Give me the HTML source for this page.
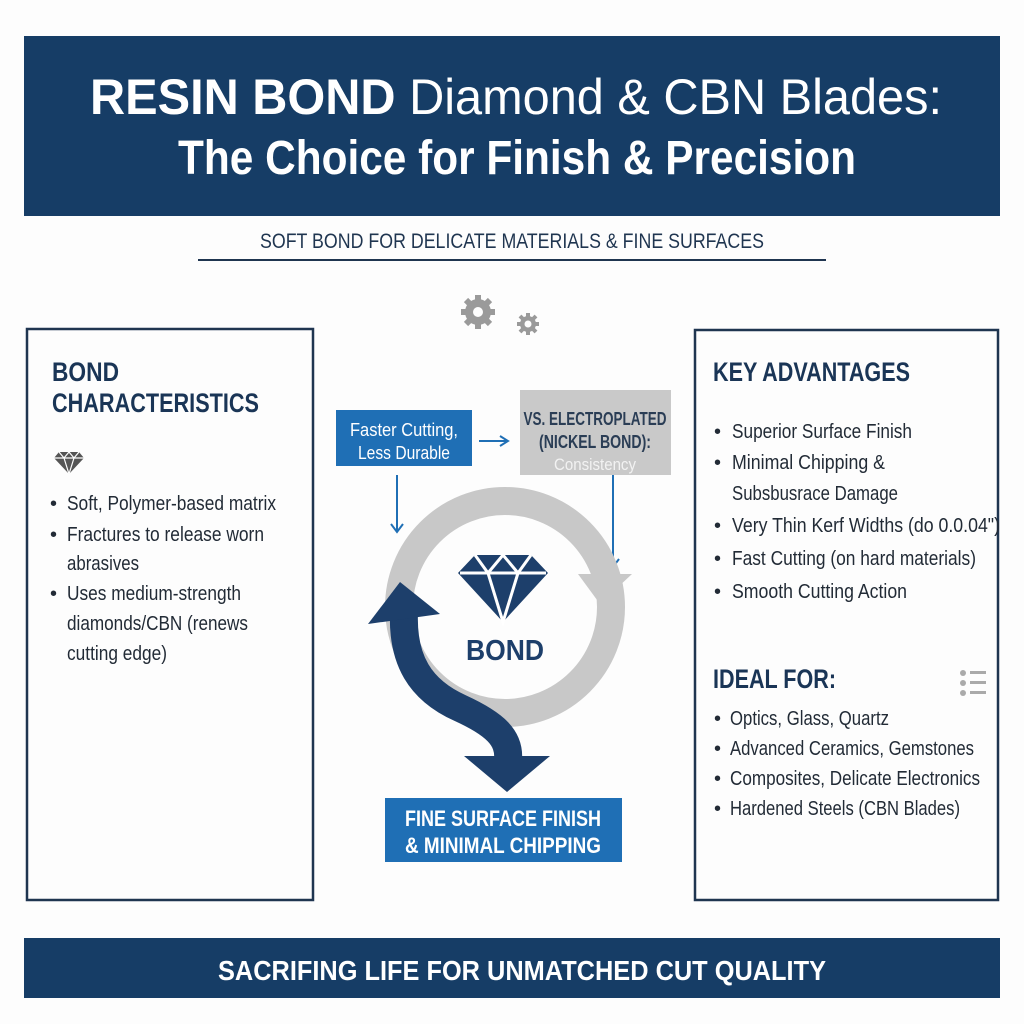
<!DOCTYPE html>
<html><head><meta charset="utf-8"><style>
html,body{margin:0;padding:0;background:#fff}
svg{display:block}
text{font-family:"Liberation Sans Narrow","Liberation Sans",sans-serif}
</style></head><body>
<svg width="1024" height="1024" viewBox="0 0 1024 1024" xmlns="http://www.w3.org/2000/svg">
<rect width="1024" height="1024" fill="#fdfdfd"/>
<rect x="24" y="36" width="976" height="180" fill="#163d66"/>
<text x="90" y="114" font-size="50" fill="#fff" textLength="852" lengthAdjust="spacingAndGlyphs"><tspan font-weight="bold">RESIN BOND</tspan> Diamond &amp; CBN Blades:</text>
<text x="178" y="174" font-size="48" fill="#fff" textLength="678" lengthAdjust="spacingAndGlyphs" font-weight="bold">The Choice for Finish &amp; Precision</text>
<text x="260" y="248" font-size="21" fill="#1f3550" textLength="504" lengthAdjust="spacingAndGlyphs">SOFT BOND FOR DELICATE MATERIALS &amp; FINE SURFACES</text>
<rect x="198" y="259" width="628" height="2" fill="#1f3550"/>

<rect x="27" y="329" width="286" height="571" fill="none" stroke="#1f3550" stroke-width="2.5"/>
<g fill="#1a3556" font-weight="bold" font-size="27">
<text x="52" y="381" textLength="67" lengthAdjust="spacingAndGlyphs">BOND</text>
<text x="52" y="412" textLength="207" lengthAdjust="spacingAndGlyphs">CHARACTERISTICS</text>
</g>
<g transform="translate(54,452)" fill="#555">
<path d="M0,6 L5,0 L25,0 L30,6 L15,22 Z"/>
<path d="M0,6 L30,6 M5,0 L10,6 L15,0 L20,6 L25,0 M10,6 L15,22 L20,6" stroke="#fff" stroke-width="1.2" fill="none"/>
</g>
<g fill="#222b36" font-size="20">
<text x="50" y="510">•</text><text x="67" y="510" textLength="209" lengthAdjust="spacingAndGlyphs">Soft, Polymer-based matrix</text>
<text x="50" y="541">•</text><text x="67" y="541" textLength="197" lengthAdjust="spacingAndGlyphs">Fractures to release worn</text>
<text x="67" y="570" textLength="72" lengthAdjust="spacingAndGlyphs">abrasives</text>
<text x="50" y="600">•</text><text x="67" y="600" textLength="174" lengthAdjust="spacingAndGlyphs">Uses medium-strength</text>
<text x="67" y="630" textLength="181" lengthAdjust="spacingAndGlyphs">diamonds/CBN (renews</text>
<text x="67" y="660" textLength="100" lengthAdjust="spacingAndGlyphs">cutting edge)</text>
</g>

<rect x="695" y="330" width="303" height="570" fill="none" stroke="#1f3550" stroke-width="2.5"/>
<g fill="#1a3556" font-weight="bold" font-size="27">
<text x="713" y="381" textLength="197" lengthAdjust="spacingAndGlyphs">KEY ADVANTAGES</text>
<text x="713" y="688" textLength="123" lengthAdjust="spacingAndGlyphs">IDEAL FOR:</text>
</g>
<g fill="#222b36" font-size="20">
<text x="714" y="438">•</text><text x="732" y="438" textLength="180" lengthAdjust="spacingAndGlyphs">Superior Surface Finish</text>
<text x="714" y="469">•</text><text x="732" y="469" textLength="153" lengthAdjust="spacingAndGlyphs">Minimal Chipping &amp;</text>
<text x="732" y="500" textLength="166" lengthAdjust="spacingAndGlyphs">Subsbusrace Damage</text>
<text x="714" y="532">•</text><text x="732" y="532" textLength="268" lengthAdjust="spacingAndGlyphs">Very Thin Kerf Widths (do 0.0.04")</text>
<text x="714" y="565">•</text><text x="732" y="565" textLength="244" lengthAdjust="spacingAndGlyphs">Fast Cutting (on hard materials)</text>
<text x="714" y="598">•</text><text x="732" y="598" textLength="175" lengthAdjust="spacingAndGlyphs">Smooth Cutting Action</text>
<text x="714" y="725">•</text><text x="730" y="725" textLength="159" lengthAdjust="spacingAndGlyphs">Optics, Glass, Quartz</text>
<text x="714" y="755">•</text><text x="730" y="755" textLength="244" lengthAdjust="spacingAndGlyphs">Advanced Ceramics, Gemstones</text>
<text x="714" y="785">•</text><text x="730" y="785" textLength="250" lengthAdjust="spacingAndGlyphs">Composites, Delicate Electronics</text>
<text x="714" y="815">•</text><text x="730" y="815" textLength="230" lengthAdjust="spacingAndGlyphs">Hardened Steels (CBN Blades)</text>
</g>
<g fill="#aaa">
<circle cx="963" cy="673" r="3"/><circle cx="963" cy="683" r="3"/><circle cx="963" cy="693" r="3"/>
<rect x="970" y="671" width="16" height="3"/><rect x="970" y="681" width="16" height="3"/><rect x="970" y="691" width="16" height="3"/>
</g>

<g fill="#9a9a9a">
<circle cx="478" cy="312" r="13"/>
<g stroke="#9a9a9a" stroke-width="6">
<line x1="478" y1="295" x2="478" y2="329"/><line x1="461" y1="312" x2="495" y2="312"/>
<line x1="466" y1="300" x2="490" y2="324"/><line x1="466" y1="324" x2="490" y2="300"/>
</g>
<circle cx="478" cy="312" r="5" fill="#fdfdfd"/>
<circle cx="528" cy="324" r="8"/>
<g stroke="#9a9a9a" stroke-width="4">
<line x1="528" y1="313" x2="528" y2="335"/><line x1="517" y1="324" x2="539" y2="324"/>
<line x1="520" y1="316" x2="536" y2="332"/><line x1="520" y1="332" x2="536" y2="316"/>
</g>
<circle cx="528" cy="324" r="3.5" fill="#fdfdfd"/>
</g>

<rect x="336" y="410" width="136" height="56" fill="#1f6fb5"/>
<g fill="#fff" font-size="18" text-anchor="middle">
<text x="404" y="436" textLength="108" lengthAdjust="spacingAndGlyphs">Faster Cutting,</text>
<text x="404" y="459" textLength="92" lengthAdjust="spacingAndGlyphs">Less Durable</text>
</g>
<line x1="479" y1="441" x2="506" y2="441" stroke="#1f6fb5" stroke-width="2"/>
<path d="M500,436 L508,441 L500,446" fill="none" stroke="#1f6fb5" stroke-width="2"/>
<rect x="520" y="390" width="151" height="85" fill="#c9c9c9"/>
<g font-size="18" text-anchor="middle" font-weight="bold" fill="#2a3d55">
<text x="595" y="425" textLength="143" lengthAdjust="spacingAndGlyphs">VS. ELECTROPLATED</text>
<text x="595" y="448" textLength="112" lengthAdjust="spacingAndGlyphs">(NICKEL BOND):</text>
</g>
<text x="595" y="470" font-size="17" text-anchor="middle" fill="#f2f2f2" textLength="82" lengthAdjust="spacingAndGlyphs">Consistency</text>
<g stroke="#1f6fb5" stroke-width="2" fill="none">
<line x1="397" y1="475" x2="397" y2="531"/><path d="M391,524 L397,532 L403,524"/>
<line x1="613" y1="475" x2="613" y2="566"/><path d="M607,559 L613,567 L619,559"/>
</g>

<circle cx="505" cy="607" r="106" fill="none" stroke="#c8c8c8" stroke-width="28"/>
<path d="M578,574 L632,574 L600,604 Z" fill="#c8c8c8"/>
<path d="M404,612 C402,660 420,690 460,708 C495,724 510,738 508,760" fill="none" stroke="#1d3f6b" stroke-width="28"/>
<path d="M400,582 L368,624 L440,614 Z" fill="#1d3f6b"/>
<path d="M464,756 L550,756 L507,792 Z" fill="#1d3f6b"/>
<g transform="translate(458,555)">
<path d="M0,18 L17,0 L73,0 L90,18 L45,67 Z" fill="#1d3f6b"/>
<path d="M2,18 L88,18 M17,0 L30,18 L45,0 L60,18 L73,0 M30,18 L45,67 L60,18" fill="none" stroke="#fff" stroke-width="3"/>
</g>
<text x="505" y="660" font-size="29" font-weight="bold" fill="#1d3f6b" text-anchor="middle" textLength="78" lengthAdjust="spacingAndGlyphs">BOND</text>

<rect x="385" y="798" width="237" height="64" fill="#1f6fb5"/>
<g fill="#fff" font-size="22" font-weight="bold" text-anchor="middle">
<text x="503" y="826" textLength="196" lengthAdjust="spacingAndGlyphs">FINE SURFACE FINISH</text>
<text x="503" y="853" textLength="196" lengthAdjust="spacingAndGlyphs">&amp; MINIMAL CHIPPING</text>
</g>

<rect x="24" y="938" width="976" height="60" fill="#163d66"/>
<text x="218" y="980" font-size="28" font-weight="bold" fill="#fff" textLength="608" lengthAdjust="spacingAndGlyphs">SACRIFING LIFE FOR UNMATCHED CUT QUALITY</text>
</svg>
</body></html>
